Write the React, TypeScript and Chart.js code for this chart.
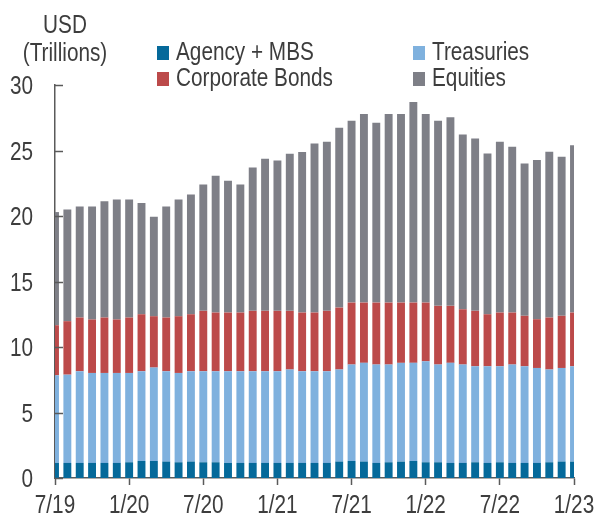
import React, { useEffect, useRef } from 'react';
import { Chart, registerables } from 'chart.js';

Chart.register(...registerables);

const FONT = "'Liberation Sans', Arial, sans-serif";
const SX = 0.83; // horizontal compression to mimic a narrow face
const TEXT = '#3d3d3d';
const AXIS = '#5a5a5a';

const months = [
  '7/19', '8/19', '9/19', '10/19', '11/19', '12/19',
  '1/20', '2/20', '3/20', '4/20', '5/20', '6/20', '7/20', '8/20', '9/20', '10/20', '11/20', '12/20',
  '1/21', '2/21', '3/21', '4/21', '5/21', '6/21', '7/21', '8/21', '9/21', '10/21', '11/21', '12/21',
  '1/22', '2/22', '3/22', '4/22', '5/22', '6/22', '7/22', '8/22', '9/22', '10/22', '11/22', '12/22',
  '1/23',
];

const shownTicks = ['7/19', '1/20', '7/20', '1/21', '7/21', '1/22', '7/22', '1/23'];

const agency = [
  1.15, 1.15, 1.15, 1.15, 1.15, 1.15, 1.2, 1.3, 1.3, 1.25,
  1.2, 1.25, 1.2, 1.2, 1.15, 1.15, 1.15, 1.15, 1.15, 1.15,
  1.15, 1.15, 1.15, 1.25, 1.3, 1.25, 1.15, 1.2, 1.25, 1.3,
  1.2, 1.2, 1.15, 1.15, 1.2, 1.15, 1.2, 1.15, 1.15, 1.15,
  1.2, 1.25, 1.25,
];

const treasuries = [
  6.69, 6.74, 7.0, 6.87, 6.87, 6.87, 6.82, 6.85, 7.13, 6.9,
  6.82, 6.9, 6.95, 6.95, 7.0, 7.0, 7.0, 7.0, 7.0, 7.13,
  7.0, 7.0, 7.0, 7.03, 7.36, 7.54, 7.51, 7.46, 7.54, 7.49,
  7.71, 7.46, 7.64, 7.51, 7.33, 7.38, 7.33, 7.51, 7.38, 7.25,
  7.08, 7.15, 7.28,
];

const corporate = [
  3.82, 4.08, 4.1, 4.08, 4.23, 4.08, 4.23, 4.35, 3.92, 4.1,
  4.33, 4.35, 4.61, 4.48, 4.48, 4.48, 4.61, 4.61, 4.61, 4.48,
  4.48, 4.48, 4.61, 4.73, 4.73, 4.6, 4.73, 4.73, 4.6, 4.6,
  4.48, 4.48, 4.35, 4.22, 4.23, 3.97, 4.1, 3.97, 3.85, 3.72,
  3.97, 3.98, 4.1,
];

const equities = [
  8.64, 8.53, 8.48, 8.63, 8.88, 9.16, 9.01, 8.5, 7.59, 8.48,
  8.91, 9.15, 9.65, 10.44, 10.06, 9.78, 10.95, 11.61, 11.48, 11.99,
  12.25, 12.91, 12.91, 13.73, 13.88, 14.39, 13.73, 14.39, 14.39, 15.31,
  14.39, 14.13, 14.39, 13.35, 13.16, 12.28, 13.04, 12.66, 11.63, 12.15,
  12.65, 12.14, 12.78,
];

const seriesNames = ['Agency + MBS', 'Treasuries', 'Corporate Bonds', 'Equities'];
const seriesColors = ['#05699a', '#7fb1de', '#bc4a4a', '#7e7f87'];

function drawNarrow(ctx: CanvasRenderingContext2D, text: string, x: number, y: number, align: CanvasTextAlign) {
  ctx.save();
  ctx.translate(x, y);
  ctx.scale(SX, 1);
  ctx.textAlign = align;
  ctx.textBaseline = 'alphabetic';
  ctx.fillText(text, 0, 0);
  ctx.restore();
}

export default function App() {
  const ref = useRef<HTMLCanvasElement>(null);

  useEffect(() => {
    document.body.style.margin = '0';
    const canvas = ref.current;
    if (!canvas) return;

    const textPlugin = {
      id: 'textAndLegend',
      afterDraw(chart: any) {
        const ctx: CanvasRenderingContext2D = chart.ctx;
        ctx.save();
        ctx.font = `25px ${FONT}`;
        ctx.fillStyle = TEXT;
        // unit header
        drawNarrow(ctx, 'USD', 65, 33, 'center');
        drawNarrow(ctx, '(Trillions)', 65, 61, 'center');
        // legend (2 x 2 grid)
        chart.data.datasets.forEach((ds: any, i: number) => {
          const col = i % 2;
          const row = Math.floor(i / 2);
          const x = col === 0 ? 157 : 413;
          const base = row === 0 ? 60 : 86;
          ctx.fillStyle = ds.backgroundColor;
          ctx.fillRect(x, base - 14, 12, 14);
          ctx.fillStyle = TEXT;
          drawNarrow(ctx, ds.label, x + 19, base, 'left');
        });
        // y tick labels
        const ys = chart.scales.y;
        ys.ticks.forEach((t: any) => {
          const py = ys.getPixelForValue(t.value);
          drawNarrow(ctx, String(t.value), 33, py + 9, 'right');
        });
        // x tick labels
        const xs = chart.scales.x;
        months.forEach((m, i) => {
          if (!shownTicks.includes(m)) return;
          const px = xs.getPixelForValue(i);
          drawNarrow(ctx, m, px, 513, 'center');
        });
        // inward y tick marks
        ctx.strokeStyle = AXIS;
        ctx.lineWidth = 1.5;
        ys.ticks.forEach((t: any) => {
          const py = Math.round(ys.getPixelForValue(t.value)) + 0.5;
          ctx.beginPath();
          ctx.moveTo(ys.right, py);
          ctx.lineTo(ys.right + 8, py);
          ctx.stroke();
        });
        ctx.restore();
      },
    };

    const values = [agency, treasuries, corporate, equities];

    const chart = new Chart(canvas, {
      type: 'bar',
      data: {
        labels: months,
        datasets: values.map((v, i) => ({
          label: seriesNames[i],
          data: v,
          backgroundColor: seriesColors[i],
          borderWidth: 0,
          categoryPercentage: 1,
          barPercentage: 0.64,
          clip: 0,
        })),
      },
      options: {
        animation: false,
        responsive: false,
        maintainAspectRatio: false,
        layout: { padding: { top: 85, right: 21, left: 0, bottom: 0 } },
        plugins: {
          legend: { display: false },
          tooltip: { enabled: false },
          title: { display: false },
        },
        scales: {
          x: {
            stacked: true,
            offset: false,
            afterFit: (s: any) => { s.height = 41; },
            grid: {
              display: true,
              offset: false,
              drawOnChartArea: false,
              drawTicks: true,
              tickLength: 7,
              tickWidth: 1.5,
              tickColor: (c: any) => (shownTicks.includes(months[c.index]) ? AXIS : 'rgba(0,0,0,0)'),
            },
            border: { display: true, color: AXIS, width: 1.5 },
            ticks: { display: false, autoSkip: false, maxRotation: 0, minRotation: 0 },
          },
          y: {
            stacked: true,
            min: 0,
            max: 30,
            afterFit: (s: any) => { s.width = 55; },
            grid: { display: false, drawTicks: false },
            border: { display: true, color: AXIS, width: 1.5 },
            ticks: { display: false, stepSize: 5 },
          },
        },
      },
      plugins: [textPlugin],
    });

    return () => chart.destroy();
  }, []);

  return (
    <div style={{ width: 595, height: 519, background: '#fff' }}>
      <canvas ref={ref} width={595} height={519} style={{ display: 'block' }} />
    </div>
  );
}
